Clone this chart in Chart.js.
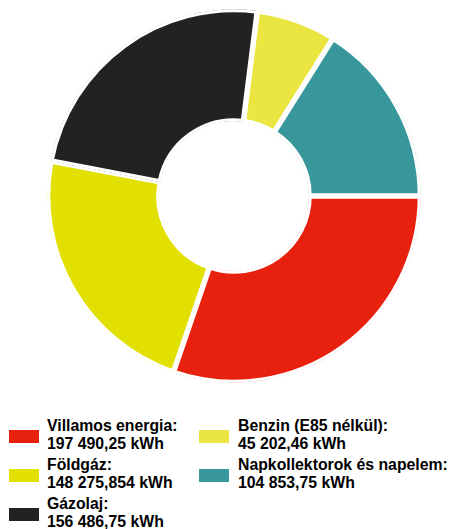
<!DOCTYPE html>
<html>
<head>
<meta charset="utf-8">
<script src="https://cdn.jsdelivr.net/npm/chart.js@4/dist/chart.umd.min.js"></script>
<style>
  html, body { margin: 0; padding: 0; background: #fff; }
  body { width: 452px; height: 529px; position: relative; overflow: hidden; }
  #wrap { position: absolute; left: 0; top: 0; width: 452px; height: 400px; }
  .item { position: absolute; font-family: "Liberation Sans", Arial, sans-serif; font-weight: bold;
          font-size: 15.8px; line-height: 17.8px; color: #000; white-space: nowrap; }
  .box { position: absolute; width: 30px; height: 13px; }
</style>
</head>
<body>
<div id="wrap"><canvas id="c" width="452" height="400"></canvas></div>
<div id="legend"></div>
<script>
const categories = ["Villamos energia", "Földgáz", "Gázolaj", "Benzin (E85 nélkül)", "Napkollektorok és napelem"];
const values = [197490.25, 148275.854, 156486.75, 45202.46, 104853.75];
const valueLabels = ["197 490,25 kWh", "148 275,854 kWh", "156 486,75 kWh", "45 202,46 kWh", "104 853,75 kWh"];
const colors = ["#E8200E", "#E2E000", "#222222", "#EAE540", "#38979A"];

new Chart(document.getElementById('c'), {
  type: 'doughnut',
  data: {
    labels: categories,
    datasets: [{
      data: values,
      backgroundColor: colors,
      borderColor: '#ffffff',
      borderWidth: 2.75,
      borderAlign: 'inner',
      hoverOffset: 0
    }]
  },
  options: {
    responsive: false,
    animation: false,
    rotation: 90,
    cutout: '40%',
    layout: { padding: { left: 16, right: 0, top: 9.25, bottom: 17.25 } },
    plugins: { legend: { display: false }, tooltip: { enabled: false } },
    events: []
  }
});

// HTML legend built from the data arrays
const legend = document.getElementById('legend');
const cols = [[0, 1, 2], [3, 4]];
const colX = [[9, 47], [199, 238]];
cols.forEach((col, ci) => {
  col.forEach((idx, ri) => {
    const top = 417 + ri * 39.2;
    const box = document.createElement('div');
    box.className = 'box';
    box.style.left = colX[ci][0] + 'px';
    box.style.top = (top + 12.5) + 'px';
    box.style.background = colors[idx];
    legend.appendChild(box);
    const t = document.createElement('div');
    t.className = 'item';
    t.style.left = colX[ci][1] + 'px';
    t.style.top = top + 'px';
    t.innerHTML = categories[idx] + ':<br>' + valueLabels[idx];
    legend.appendChild(t);
  });
});
</script>
</body>
</html>
